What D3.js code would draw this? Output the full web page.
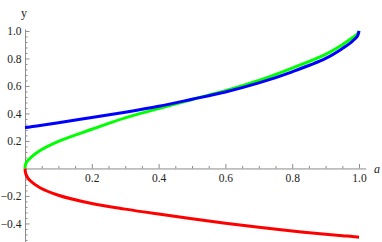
<!DOCTYPE html>
<html>
<head>
<meta charset="utf-8">
<script src="https://cdn.jsdelivr.net/npm/d3@7"></script>
<style>
  body { margin: 0; background: #fff; }
  svg { display: block; }
  .axis path, .axis line { stroke: #8c8c8c; }
</style>
</head>
<body>
<svg id="chart" width="382" height="242"></svg>
<script>
// values
const aValues = [0, 0.003, 0.015, 0.045, 0.1, 0.2, 0.3, 0.4, 0.5, 0.6, 0.7, 0.8, 0.9, 0.95, 0.98, 0.995, 1];
const greenValues = [0, 0.04, 0.074, 0.13, 0.197, 0.285, 0.368, 0.435, 0.502, 0.565, 0.64, 0.73, 0.83, 0.9, 0.95, 0.978, 1];
const blueValues = [0.297, 0.298, 0.302, 0.312, 0.333, 0.37, 0.409, 0.452, 0.503, 0.556, 0.622, 0.703, 0.8, 0.872, 0.925, 0.962, 1];
const redValues = [0, -0.045, -0.088, -0.14, -0.195, -0.255, -0.296, -0.332, -0.366, -0.398, -0.428, -0.455, -0.478, -0.489, -0.495, -0.499, -0.5];

const xMajor = [0.2, 0.4, 0.6, 0.8, 1.0];
const yMajor = [-0.4, -0.2, 0.2, 0.4, 0.6, 0.8, 1.0];

const series = [
  { name: 'red', color: '#ff0000', values: redValues },
  { name: 'green', color: '#00ff00', values: greenValues },
  { name: 'blue', color: '#0000ff', values: blueValues },
];

const serif = 'Liberation Serif';

const svg = d3.select('#chart');

const x = d3.scaleLinear().domain([0, 1.02]).range([25, 365.7]);
const y = d3.scaleLinear().domain([-0.535, 1.015]).range([242, 28.9]);

// minor ticks
const xMinor = d3.range(1, 21).map((i) => i * 0.05).filter((v) => Math.round(v * 100) % 20 !== 0);
const yMinor = d3.range(-13, 26).map((i) => i * 0.04).filter((v) => Math.round(v * 100) % 20 !== 0);

const fmt = d3.format('.1f');

const xAxisG = svg.append('g').attr('class', 'axis').attr('transform', `translate(0, ${y(0)})`);
xAxisG.call(d3.axisBottom(x).tickValues(xMajor).tickFormat(fmt).tickSizeInner(-4.5).tickSizeOuter(0).tickPadding(5));
xAxisG.append('g')
  .call(d3.axisBottom(x).tickValues(xMinor).tickFormat('').tickSizeInner(-2.5).tickSizeOuter(0))
  .select('.domain').remove();

const yAxisG = svg.append('g').attr('class', 'axis').attr('transform', `translate(${x(0)}, 0)`);
yAxisG.call(d3.axisLeft(y).tickValues(yMajor).tickFormat(fmt).tickSizeInner(-4.5).tickSizeOuter(0).tickPadding(3.5));
yAxisG.append('g')
  .call(d3.axisLeft(y).tickValues(yMinor).tickFormat('').tickSizeInner(-2.5).tickSizeOuter(0))
  .select('.domain').remove();

svg.selectAll('.axis text')
  .attr('font-family', serif)
  .attr('font-size', 11.5)
  .attr('fill', '#222');

// axis labels
svg.append('text')
  .attr('x', 24).attr('y', 17)
  .attr('text-anchor', 'middle')
  .attr('font-family', serif).attr('font-size', 12).attr('fill', '#222')
  .text('y');
svg.append('text')
  .attr('x', 377).attr('y', 173)
  .attr('text-anchor', 'middle')
  .attr('font-family', serif).attr('font-size', 12).attr('font-style', 'italic').attr('fill', '#222')
  .text('a');

const line = d3.line()
  .x((d) => x(d[0]))
  .y((d) => y(d[1]))
  .curve(d3.curveCatmullRom.alpha(0.5));

svg.append('g')
  .selectAll('path')
  .data(series)
  .join('path')
  .attr('fill', 'none')
  .attr('stroke', (d) => d.color)
  .attr('stroke-width', 3)
  .attr('d', (d) => line(aValues.map((a, i) => [a, d.values[i]])));
</script>
</body>
</html>
